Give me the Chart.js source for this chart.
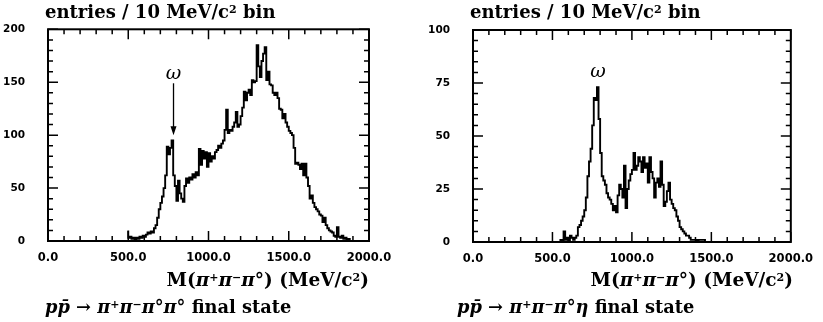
<!DOCTYPE html>
<html>
<head>
  <title>M(pi+ pi- pi0) spectra</title>
  <script src="https://cdn.jsdelivr.net/npm/chart.js"></script>
  <style>
    body {
      margin: 0;
      width: 823px;
      height: 322px;
      position: relative;
      overflow: hidden;
      background: #fff;
      font-family: "DejaVu Serif", serif;
    }
    canvas {
      position: absolute;
      top: 0;
    }
    .txt {
      position: absolute;
      font-weight: bold;
      font-size: 18px;
      line-height: 18px;
      white-space: nowrap;
      color: #000;
    }
    .txt sup {
      font-size: 11px;
      line-height: 0;
      vertical-align: 0.5em;
    }
    .title { top: 3px; font-size: 18px; }
    .axis { top: 271px; font-size: 18.5px; }
    .caption { top: 298px; font-size: 17.8px; }
  </style>
</head>
<body>
  <canvas id="left" width="411" height="322" style="left:0"></canvas>
  <canvas id="right" width="412" height="322" style="left:411px"></canvas>

  <div class="txt title" style="left:45px">entries / 10 MeV/c<sup>2</sup> bin</div>
  <div class="txt axis" style="right:454px">M(<i>π</i><sup>+</sup><i>π</i><sup>−</sup><i>π</i>°) (MeV/c<sup>2</sup>)</div>
  <div class="txt caption" style="left:45px"><i>pp̄</i> → <i>π</i><sup>+</sup><i>π</i><sup>−</sup><i>π</i>°<i>π</i>° final state</div>

  <div class="txt title" style="left:470px">entries / 10 MeV/c<sup>2</sup> bin</div>
  <div class="txt axis" style="right:30px">M(<i>π</i><sup>+</sup><i>π</i><sup>−</sup><i>π</i>°) (MeV/c<sup>2</sup>)</div>
  <div class="txt caption" style="left:457px"><i>pp̄</i> → <i>π</i><sup>+</sup><i>π</i><sup>−</sup><i>π</i>°<i>η</i> final state</div>

  <script>
    // 10 MeV/c^2 bins, counts
    const binWidth = 10;

    // p pbar -> pi+ pi- pi0 pi0, first bin starts at 500 MeV
    const pi0Start = 500;
    const pi0Counts = [
      10, 3, 4, 2, 3, 1, 3, 2, 4, 3,
      5, 4, 6, 8, 7, 9, 8, 12, 15, 22,
      30, 36, 42, 50, 62, 89, 82, 88, 95, 62,
      52, 38, 57, 45, 40, 37, 52, 59, 55, 60,
      58, 63, 60, 65, 62, 87, 72, 85, 78, 84,
      70, 83, 75, 80, 78, 84, 86, 90, 88, 92,
      95, 105, 124, 102, 105, 104, 108, 112, 122, 108,
      110, 118, 126, 141, 133, 140, 143, 138, 152, 150,
      151, 185, 165, 155, 170, 177, 183, 152, 160, 148,
      147, 140, 138, 140, 135, 125, 124, 116, 120, 112,
      108, 104, 102, 100, 88, 73, 74, 72, 68, 73,
      62, 73, 60, 52, 40, 43, 36, 32, 30, 28,
      25, 24, 18, 22, 15, 12, 10, 9, 8, 5,
      4, 13, 4, 3, 5, 2, 3, 1, 2, 0
    ];

    // p pbar -> pi+ pi- pi0 eta, first bin starts at 550 MeV
    const etaStart = 550;
    const etaCounts = [
      0, 1, 0, 5, 1, 2, 0, 3, 2, 1,
      2, 3, 7, 8, 10, 12, 15, 21, 31, 38,
      44, 55, 68, 67, 73, 58, 42, 31, 29, 27,
      23, 21, 20, 18, 15, 17, 14, 22, 27, 25,
      21, 36, 16, 25, 29, 32, 34, 42, 34, 36,
      40, 38, 33, 40, 35, 37, 28, 40, 33, 30,
      21, 28, 30, 26, 38, 27, 17, 19, 24, 28,
      20, 18, 16, 15, 12, 10, 7, 6, 5, 4,
      3, 3, 2, 1, 1, 1, 1, 0, 1, 1,
      1, 1, 0
    ];

    const xTicks = [0, 500, 1000, 1500, 2000];
    const pi0YTicks = [0, 50, 100, 150, 200];
    const etaYTicks = [0, 25, 50, 75, 100];

    function histPoints(start, counts) {
      const pts = counts.map((c, i) => ({ x: start + i * binWidth, y: c }));
      pts.push({ x: start + counts.length * binWidth, y: 0 });
      return pts;
    }

    // frame with inward ticks on all four sides, plus the omega label
    const frame = {
      id: 'frame',
      afterDraw(chart, args, o) {
        const { ctx, chartArea: a, scales: { x, y } } = chart;
        ctx.save();
        ctx.strokeStyle = '#000';
        ctx.fillStyle = '#000';
        ctx.lineWidth = 1.5;
        ctx.beginPath();
        for (let m = 0; m <= 2000; m += 100) {
          const len = m % 500 === 0 ? 10 : 5;
          const px = x.getPixelForValue(m);
          ctx.moveTo(px, a.bottom); ctx.lineTo(px, a.bottom - len);
          ctx.moveTo(px, a.top); ctx.lineTo(px, a.top + len);
        }
        for (let v = 0; v <= o.yMax; v += o.minor) {
          const len = v % o.major === 0 ? 10 : 5;
          const py = y.getPixelForValue(v);
          ctx.moveTo(a.left, py); ctx.lineTo(a.left + len, py);
          ctx.moveTo(a.right, py); ctx.lineTo(a.right - len, py);
        }
        ctx.stroke();
        ctx.lineWidth = 2;
        ctx.strokeRect(a.left, a.top, a.right - a.left, a.bottom - a.top);

        const ox = x.getPixelForValue(o.omega.x);
        ctx.font = 'italic 19px "DejaVu Serif"';
        ctx.textAlign = 'center';
        ctx.textBaseline = 'middle';
        ctx.fillText('ω', ox, y.getPixelForValue(o.omega.y));
        if (o.omega.arrow) {
          const y1 = y.getPixelForValue(o.omega.arrow[0]);
          const y2 = y.getPixelForValue(o.omega.arrow[1]);
          ctx.lineWidth = 1.3;
          ctx.beginPath();
          ctx.moveTo(ox, y1); ctx.lineTo(ox, y2 - 6);
          ctx.stroke();
          ctx.beginPath();
          ctx.moveTo(ox, y2);
          ctx.lineTo(ox - 3, y2 - 9);
          ctx.lineTo(ox + 3, y2 - 9);
          ctx.closePath();
          ctx.fill();
        }
        ctx.restore();
      }
    };

    const tickFont = { family: '"DejaVu Sans"', size: 10.5, weight: 'bold' };

    function makeChart(id, points, yTicks, box, frameOpts) {
      return new Chart(document.getElementById(id), {
        type: 'line',
        data: {
          datasets: [{
            data: points,
            stepped: 'after',
            borderColor: '#000',
            borderWidth: 1.9,
            pointRadius: 0,
            fill: false
          }]
        },
        options: {
          responsive: false,
          animation: false,
          layout: { padding: { left: 0, top: box.top, right: box.right, bottom: box.bottom } },
          plugins: { legend: { display: false }, tooltip: { enabled: false }, frame: frameOpts },
          scales: {
            x: {
              type: 'linear',
              min: 0,
              max: 2000,
              grid: { display: false, drawTicks: false },
              border: { display: false },
              afterBuildTicks: s => { s.ticks = xTicks.map(v => ({ value: v })); },
              afterFit: s => { s.height = 40; },
              ticks: {
                autoSkip: false,
                maxRotation: 0,
                padding: 10,
                color: '#000',
                font: { family: '"DejaVu Sans"', size: 11.5, weight: 'bold' },
                callback: v => v.toFixed(1)
              }
            },
            y: {
              min: 0,
              max: yTicks[yTicks.length - 1],
              grid: { display: false, drawTicks: false },
              border: { display: false },
              afterBuildTicks: s => { s.ticks = yTicks.map(v => ({ value: v })); },
              afterFit: s => { s.width = box.left; },
              ticks: { padding: 23, color: '#000', font: tickFont }
            }
          }
        },
        plugins: [frame]
      });
    }

    makeChart('left', histPoints(pi0Start, pi0Counts), pi0YTicks,
      { left: 48, top: 29, right: 411 - 369, bottom: 322 - 241 - 40 },
      { yMax: 200, minor: 10, major: 50, omega: { x: 782, y: 158, arrow: [149, 100] } });

    makeChart('right', histPoints(etaStart, etaCounts), etaYTicks,
      { left: 473 - 411, top: 30, right: 412 - 790, bottom: 322 - 242 - 40 },
      { yMax: 100, minor: 5, major: 25, omega: { x: 786, y: 80 } });
  </script>
</body>
</html>
